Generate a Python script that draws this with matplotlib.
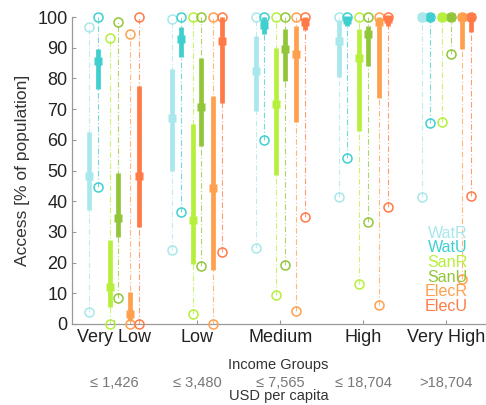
import matplotlib

matplotlib.use("Agg")
import matplotlib.pyplot as plt
import numpy as np

plt.rcParams["font.family"] = ["Liberation Sans", "DejaVu Sans"]

GROUPS = ["Very Low", "Low", "Medium", "High", "Very High"]
INCOME = ["\u2264 1,426", "\u2264 3,480", "\u2264 7,565", "\u2264 18,704", ">18,704"]
SERIES = ["WatR", "WatU", "SanR", "SanU", "ElecR", "ElecU"]
COLORS = ["#A8E8EC", "#3FCFCF", "#B6F03C", "#92C63A", "#FFA04E", "#FF7A46"]

# per series: lower end, q1, median, q3, upper end (one value per income group)
WATR_LO = [3.8, 24.0, 24.9, 41.3, 41.5]
WATR_Q1 = [37.1, 50.0, 69.3, 80.6, 99.5]
WATR_MED = [48.2, 67.1, 82.4, 92.2, 100.0]
WATR_Q3 = [62.4, 83.2, 93.7, 99.1, 100.0]
WATR_HI = [96.6, 99.3, 100.0, 100.0, 100.0]

WATU_LO = [44.7, 36.6, 60.0, 54.2, 65.5]
WATU_Q1 = [76.4, 87.1, 94.4, 97.0, 99.5]
WATU_MED = [85.7, 92.8, 97.5, 99.0, 100.0]
WATU_Q3 = [89.7, 96.6, 100.0, 100.0, 100.0]
WATU_HI = [100.0, 100.0, 100.0, 100.0, 100.0]

SANR_LO = [0.0, 3.3, 9.3, 13.1, 65.7]
SANR_Q1 = [5.4, 19.7, 48.6, 62.8, 99.5]
SANR_MED = [12.0, 34.0, 71.8, 86.8, 100.0]
SANR_Q3 = [27.5, 65.3, 90.0, 96.0, 100.0]
SANR_HI = [93.3, 100.0, 100.0, 100.0, 100.0]

SANU_LO = [8.5, 18.8, 19.1, 33.3, 88.1]
SANU_Q1 = [28.4, 58.0, 79.1, 84.0, 99.0]
SANU_MED = [34.4, 70.7, 89.7, 94.4, 100.0]
SANU_Q3 = [49.1, 86.5, 96.0, 97.2, 100.0]
SANU_HI = [98.3, 100.0, 100.0, 100.0, 100.0]

ELECR_LO = [0.0, 0.0, 4.1, 6.3, 14.7]
ELECR_Q1 = [1.1, 17.7, 65.7, 73.7, 89.7]
ELECR_MED = [3.4, 44.4, 87.9, 98.3, 100.0]
ELECR_Q3 = [10.4, 74.2, 97.2, 99.9, 100.0]
ELECR_HI = [94.4, 100.0, 100.0, 100.0, 100.0]

ELECU_LO = [0.0, 23.3, 34.9, 38.2, 41.8]
ELECU_Q1 = [31.6, 72.0, 95.7, 97.0, 95.0]
ELECU_MED = [48.2, 92.2, 98.5, 99.5, 100.0]
ELECU_Q3 = [77.5, 100.0, 100.0, 100.0, 100.0]
ELECU_HI = [100.0, 100.0, 100.0, 100.0, 100.0]

STATS = [
    (WATR_LO, WATR_Q1, WATR_MED, WATR_Q3, WATR_HI),
    (WATU_LO, WATU_Q1, WATU_MED, WATU_Q3, WATU_HI),
    (SANR_LO, SANR_Q1, SANR_MED, SANR_Q3, SANR_HI),
    (SANU_LO, SANU_Q1, SANU_MED, SANU_Q3, SANU_HI),
    (ELECR_LO, ELECR_Q1, ELECR_MED, ELECR_Q3, ELECR_HI),
    (ELECU_LO, ELECU_Q1, ELECU_MED, ELECU_Q3, ELECU_HI),
]

OFFSETS = [-0.296, -0.192, -0.052, 0.052, 0.192, 0.296]

fig = plt.figure(figsize=(4.86, 4.05), dpi=100, facecolor="white")
ax = fig.add_axes([0.149, 0.200, 0.855, 0.758])

for (lo, q1, med, q3, hi), off, col in zip(STATS, OFFSETS, COLORS):
    x = np.arange(1, len(GROUPS) + 1) + off
    for xi, a, b, c, d, e in zip(x, lo, q1, med, q3, hi):
        ax.plot([xi, xi], [a, e], color=col, lw=0.8, ls=(0, (5, 2, 1, 2)), alpha=0.75,
                clip_on=False, zorder=2)
        ax.plot([xi, xi], [b, d], color=col, lw=3.4, solid_capstyle="butt",
                clip_on=False, zorder=3)
        ax.plot([xi], [c], marker="s", ms=6.2, color=col, mec="none",
                clip_on=False, zorder=4)
    ax.plot(x, lo, ls="none", marker="o", ms=6.5, mfc="none", mec=col, mew=1.1,
            clip_on=False, zorder=3)
    ax.plot(x, hi, ls="none", marker="o", ms=6.5, mfc="none", mec=col, mew=1.1,
            clip_on=False, zorder=3)

ax.set_xlim(0.5, 5.5)
ax.set_ylim(0, 100)
ax.set_yticks(range(0, 101, 10))
ax.set_xticks(range(1, 6))
ax.set_xticklabels(GROUPS, fontsize=13, color="#222222")
ax.tick_params(axis="y", labelsize=13, labelcolor="#222222")
ax.tick_params(direction="in", length=3, color="#999999", width=0.8)
ax.set_ylabel("Access [% of population]", fontsize=12.5, color="#333333", labelpad=5)
for sp in ["top", "right"]:
    ax.spines[sp].set_visible(False)
for sp in ["left", "bottom"]:
    ax.spines[sp].set_color("#999999")
    ax.spines[sp].set_linewidth(0.9)

fig.text(0.573, 0.099, "Income Groups", ha="center", va="center", fontsize=10.5, color="#333333")
for i, lab in enumerate(INCOME):
    xf, _ = fig.transFigure.inverted().transform(ax.transData.transform((i + 1, 0)))
    fig.text(xf, 0.054, lab, ha="center", va="center", fontsize=10.5, color="#777777")
fig.text(0.573, 0.021, "USD per capita", ha="center", va="center", fontsize=10.5, color="#333333")

for i, (name, col) in enumerate(zip(SERIES, COLORS)):
    fig.text(0.962, 0.424 - i * 0.036, name, ha="right", va="center", fontsize=11.6, color=col)

fig.savefig("out.png", dpi=100, facecolor="white")
